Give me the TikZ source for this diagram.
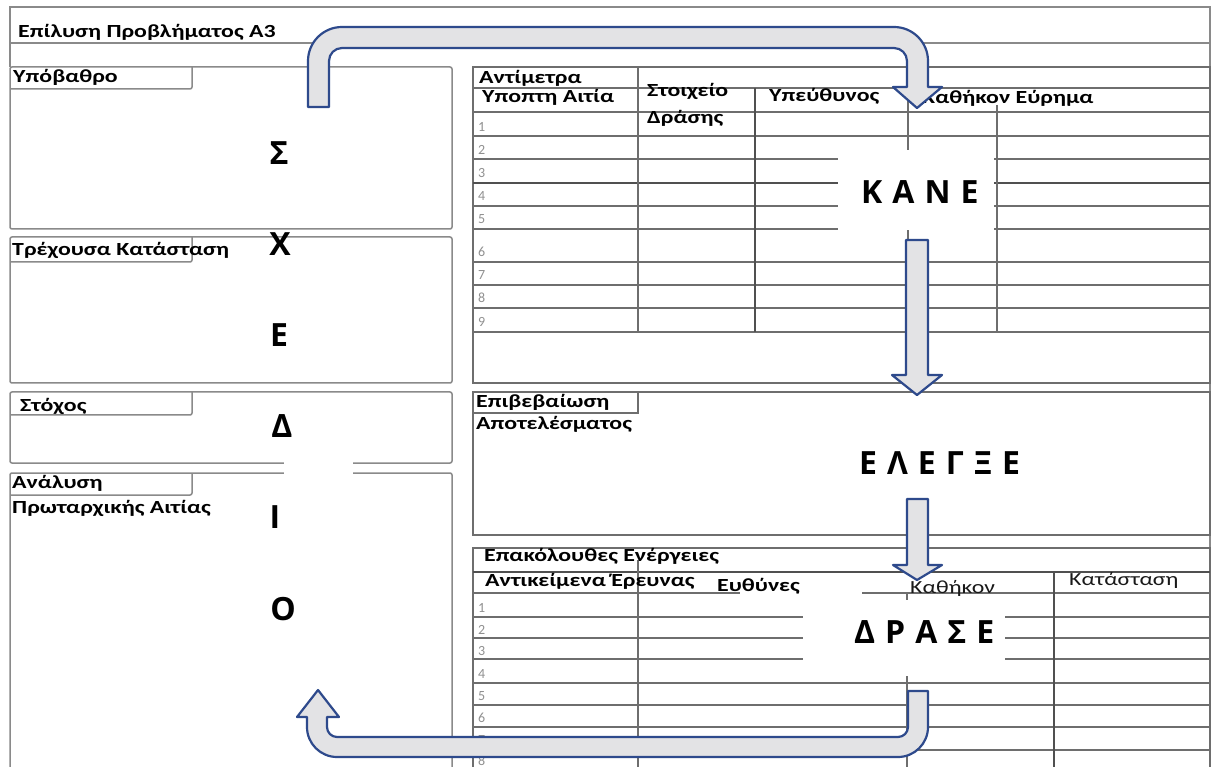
\documentclass[tikz,border=0pt]{standalone}
\usepackage{fontspec}
\setmainfont{Carlito}
\newfontfamily\formfont{Carlito}[FakeStretch=1.29]
\newfontfamily\numfont{Carlito}
\newfontfamily\pdcafont{Open Sans}
\newcommand\lsp{\hspace{10pt}}

\definecolor{boxline}{HTML}{8A8A8A}
\definecolor{gridline}{HTML}{6E6E6E}
\definecolor{gridheavy}{HTML}{505050}
\definecolor{arrowfill}{HTML}{E3E3E5}
\definecolor{arrowline}{HTML}{2E4A8C}
\definecolor{numgrey}{HTML}{909090}

\tikzset{
  box/.style={draw=boxline, line width=1.5pt, rounded corners=2pt},
  frame/.style={draw=boxline, line width=1.3pt},
  grid/.style={draw=gridline, line width=1.3pt},
  heavy/.style={draw=gridheavy, line width=2pt},
  lbl/.style={anchor=base west, inner sep=0pt, text=black,
    font=\formfont\bfseries\fontsize{18.5}{21}\selectfont},
  lblthin/.style={anchor=base west, inner sep=0pt, text=black!90,
    font=\formfont\fontsize{18.5}{21}\selectfont},
  num/.style={anchor=base west, inner sep=0pt, text=numgrey,
    font=\numfont\fontsize{14}{16}\selectfont},
  pdca/.style={anchor=base, inner sep=0pt,
    font=\pdcafont\bfseries\fontsize{32}{36}\selectfont},
  pdcaword/.style={anchor=base west, inner sep=0pt,
    font=\pdcafont\bfseries\fontsize{32}{36}\selectfont},
  erase/.style={fill=white},
  blockarrow/.style={fill=arrowfill, draw=arrowline, line width=2.2pt, line join=round}
}

\begin{document}
\begin{tikzpicture}[x=1pt, y=-1pt]
\fill[white] (0,0) rectangle (1211,767);
\useasboundingbox (0,0) rectangle (1211,767);

% title strip and outer frame
\draw[frame] (10,7) rectangle (1210,43);
\draw[frame] (10,43) -- (10,67);
\draw[frame] (1210,7) -- (1210,775);

% left column: planning boxes
\draw[box] (10,67) rectangle (452,229);
\draw[box] (10,89) -- (192,89) -- (192,67);
\draw[box] (10,237) rectangle (452,383);
\draw[box] (10,262) -- (192,262) -- (192,237);
\draw[box] (10,392) rectangle (452,463);
\draw[box] (10,415) -- (192,415) -- (192,392);
\draw[box] (10,780) -- (10,473) -- (452,473) -- (452,780);
\draw[box] (10,495) -- (192,495) -- (192,473);

% countermeasures table
\draw[grid] (473,67) rectangle (1210,383);
\draw[grid] (473,88) -- (1210,88);
\foreach \y in {112,136,159,206,229,262,285,308,332}
  \draw[grid] (473,\y) -- (1210,\y);
\draw[heavy] (473,183) -- (1210,183);
\draw[grid] (638,67) -- (638,332);
\draw[heavy] (755,88) -- (755,332);
\draw[grid] (908,88) -- (908,332);
\draw[grid] (997,105) -- (997,332);

% result confirmation box
\draw[grid] (473,392) rectangle (1210,535);
\draw[grid] (473,413) -- (638,413) -- (638,392);

% follow-up actions table
\draw[grid] (473,780) -- (473,548) -- (1210,548) -- (1210,780);
\draw[heavy] (473,572) -- (1210,572);
\foreach \y in {593,617,638,659,683,705,727,750}
  \draw[grid] (473,\y) -- (1210,\y);
\draw[grid] (638,560) -- (638,780);
\draw[grid] (907,593) -- (907,780);
\draw[heavy] (1054,572) -- (1054,780);

% paper showing through behind the cycle words
\fill[erase] (284,457) rectangle (353,479);
\fill[erase] (838,150) rectangle (994,230);
\fill[erase] (803,600) rectangle (1005,676);
\fill[erase] (740,589) rectangle (862,597);

% labels
\node[lbl] (title) at (18,38) {Επίλυση Προβλήματος A3};
\node[lbl] (bg) at (13,83) {Υπόβαθρο};
\node[lbl] (cur) at (12,256) {Τρέχουσα Κατάσταση};
\node[lbl] (goal) at (20,411) {Στόχος};
\node[lbl] (rca1) at (12,488) {Ανάλυση};
\node[lbl] (rca2) at (12,513) {Πρωταρχικής Αιτίας};
\node[lbl] (cm) at (479,84) {Αντίμετρα};
\node[lbl] (cause) at (482,103) {Υποπτη Αιτία};
\node[lbl] (act1) at (647,97) {Στοιχείο};
\node[lbl] (act2) at (647,124) {Δράσης};
\node[lbl] (resp) at (769,102) {Υπεύθυνος};
\node[lbl] (task) at (922,104) {Καθήκον Εύρημα};
\node[lbl] (conf1) at (476,407) {Επιβεβαίωση};
\node[lbl] (conf2) at (476,430) {Αποτελέσματος};
\node[lbl] (fu) at (484,561) {Επακόλουθες Ενέργειες};
\node[lbl] (items) at (485,586) {Αντικείμενα Έρευνας};
\node[lbl] (duty) at (717,591) {Ευθύνες};
\node[lblthin] (task2) at (910,593) {Καθήκον};
\node[lblthin] (state) at (1069,585) {Κατάσταση};

% row numbers
\foreach \n/\y in {1/132,2/155,3/178,4/201,5/224,6/257,7/280,8/303,9/327}
  \node[num] (cmrow\n) at (478,\y) {\n};
\foreach \n/\y in {1/612,2/634,3/655,4/678,5/700,6/722,7/744,8/765}
  \node[num] (furow\n) at (478,\y) {\n};

% plan column
\node[pdca] (p1) at (279,165) {Σ};
\node[pdca] (p2) at (280,256) {Χ};
\node[pdca] (p3) at (279,347) {Ε};
\node[pdca] (p4) at (282,438) {Δ};
\node[pdca] (p5) at (275,528) {Ι};
\node[pdca] (p6) at (283,620) {Ο};

% do, check, act
\node[pdcaword] (do) at (861,204) {Κ\lsp Α\lsp Ν\lsp Ε};
\node[pdcaword] (check) at (859,475) {Ε\lsp Λ\lsp Ε\lsp Γ\lsp Ξ\lsp Ε};
\node[pdcaword] (act) at (854,643) {Δ\lsp Ρ\lsp Α\lsp Σ\lsp Ε};

% cycle arrows
\draw[blockarrow] (308,107) -- (308,61) arc[start angle=180, end angle=270, radius=34]
  -- (894,27) arc[start angle=270, end angle=360, radius=34]
  -- (928,87) -- (942,87) -- (917,108) -- (893,87) -- (907,87) -- (907,61)
  arc[start angle=0, end angle=-90, radius=13]
  -- (342,48) arc[start angle=270, end angle=180, radius=13]
  -- (329,107) -- cycle;
\draw[blockarrow] (906,240) -- (928,240) -- (928,375) -- (942,375) -- (917,395)
  -- (892,375) -- (906,375) -- cycle;
\draw[blockarrow] (907,499) -- (928,499) -- (928,565) -- (942,565) -- (917,580)
  -- (893,565) -- (907,565) -- cycle;
\draw[blockarrow] (908,691) -- (928,691) -- (928,727)
  arc[start angle=0, end angle=90, radius=30]
  -- (337,757) arc[start angle=90, end angle=180, radius=30]
  -- (307,717) -- (297,717) -- (318,690) -- (339,717) -- (327,717) -- (327,727)
  arc[start angle=180, end angle=90, radius=10]
  -- (898,737) arc[start angle=90, end angle=0, radius=10]
  -- cycle;
\end{tikzpicture}
\end{document}
